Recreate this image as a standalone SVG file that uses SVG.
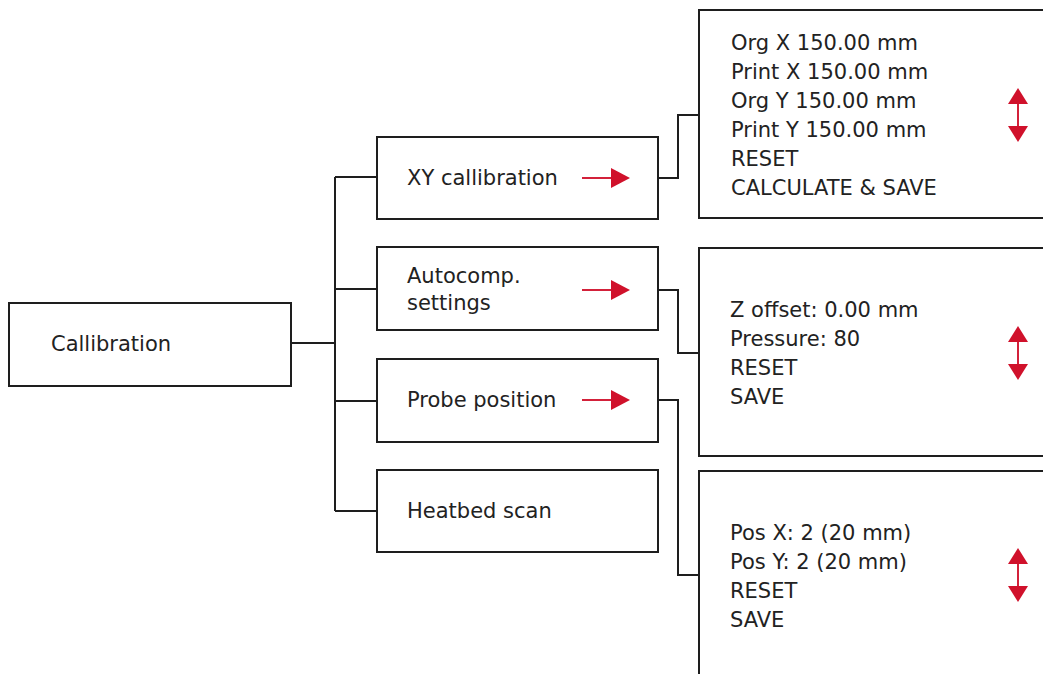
<svg xmlns="http://www.w3.org/2000/svg" width="1043" height="674" viewBox="0 0 1043 674">
  <style>
    .box { fill: #ffffff; stroke: #1e1e1e; stroke-width: 2; }
    .wire { fill: none; stroke: #1e1e1e; stroke-width: 2; }
    .lbl { font-family: "DejaVu Sans", "Liberation Sans", sans-serif; font-size: 21px; fill: #222222; }
    .shaft { stroke: #d3213a; stroke-width: 2; }
    .head { fill: #d0112b; }
  </style>
  <defs>
    <!-- right-pointing menu arrow, tip at origin -->
    <g id="go">
      <line class="shaft" x1="-48" y1="0" x2="-16" y2="0"/>
      <polygon class="head" points="0,0 -19,-10 -19,10"/>
    </g>
    <!-- up/down scroll arrow, centred at origin -->
    <g id="scroll">
      <line class="shaft" x1="0" y1="-12" x2="0" y2="12"/>
      <polygon class="head" points="0,-27 -10,-11 10,-11"/>
      <polygon class="head" points="0,27 -10,11 10,11"/>
    </g>
  </defs>

  <rect width="1043" height="674" fill="#ffffff"/>

  <g id="connectors">
    <path class="wire" d="M291,343 H335"/>
    <path class="wire" d="M335,177 V511"/>
    <path class="wire" d="M335,177 H377 M335,289 H377 M335,401 H377 M335,511 H377"/>
    <path class="wire" d="M658,178 H678 V115 H699"/>
    <path class="wire" d="M658,290 H678 V353 H699"/>
    <path class="wire" d="M658,400 H678 V575 H699"/>
  </g>

  <g id="node-callibration">
    <rect class="box" x="9" y="303" width="282" height="83"/>
    <text class="lbl" x="51" y="351">Callibration</text>
  </g>

  <g id="node-xy">
    <rect class="box" x="377" y="137" width="281" height="82"/>
    <text class="lbl" x="407" y="185">XY callibration</text>
    <use href="#go" x="630" y="178"/>
  </g>

  <g id="node-autocomp">
    <rect class="box" x="377" y="247" width="281" height="83"/>
    <text class="lbl" x="407" y="283">Autocomp.</text>
    <text class="lbl" x="407" y="310">settings</text>
    <use href="#go" x="630" y="290"/>
  </g>

  <g id="node-probe">
    <rect class="box" x="377" y="359" width="281" height="83"/>
    <text class="lbl" x="407" y="407">Probe position</text>
    <use href="#go" x="630" y="400"/>
  </g>

  <g id="node-heatbed">
    <rect class="box" x="377" y="470" width="281" height="82"/>
    <text class="lbl" x="407" y="518">Heatbed scan</text>
  </g>

  <g id="menu-xy">
    <rect class="box" x="699" y="10" width="370" height="208"/>
    <text class="lbl" x="731" y="50">Org X 150.00 mm</text>
    <text class="lbl" x="731" y="79">Print X 150.00 mm</text>
    <text class="lbl" x="731" y="108">Org Y 150.00 mm</text>
    <text class="lbl" x="731" y="137">Print Y 150.00 mm</text>
    <text class="lbl" x="731" y="166">RESET</text>
    <text class="lbl" x="731" y="195">CALCULATE &amp; SAVE</text>
    <use href="#scroll" x="1018" y="115"/>
  </g>

  <g id="menu-autocomp">
    <rect class="box" x="699" y="248" width="370" height="208"/>
    <text class="lbl" x="730" y="317">Z offset: 0.00 mm</text>
    <text class="lbl" x="730" y="346">Pressure: 80</text>
    <text class="lbl" x="730" y="375">RESET</text>
    <text class="lbl" x="730" y="404">SAVE</text>
    <use href="#scroll" x="1018" y="353"/>
  </g>

  <g id="menu-probe">
    <rect class="box" x="699" y="471" width="370" height="230"/>
    <text class="lbl" x="730" y="540">Pos X: 2 (20 mm)</text>
    <text class="lbl" x="730" y="569">Pos Y: 2 (20 mm)</text>
    <text class="lbl" x="730" y="598">RESET</text>
    <text class="lbl" x="730" y="627">SAVE</text>
    <use href="#scroll" x="1018" y="575"/>
  </g>
</svg>
